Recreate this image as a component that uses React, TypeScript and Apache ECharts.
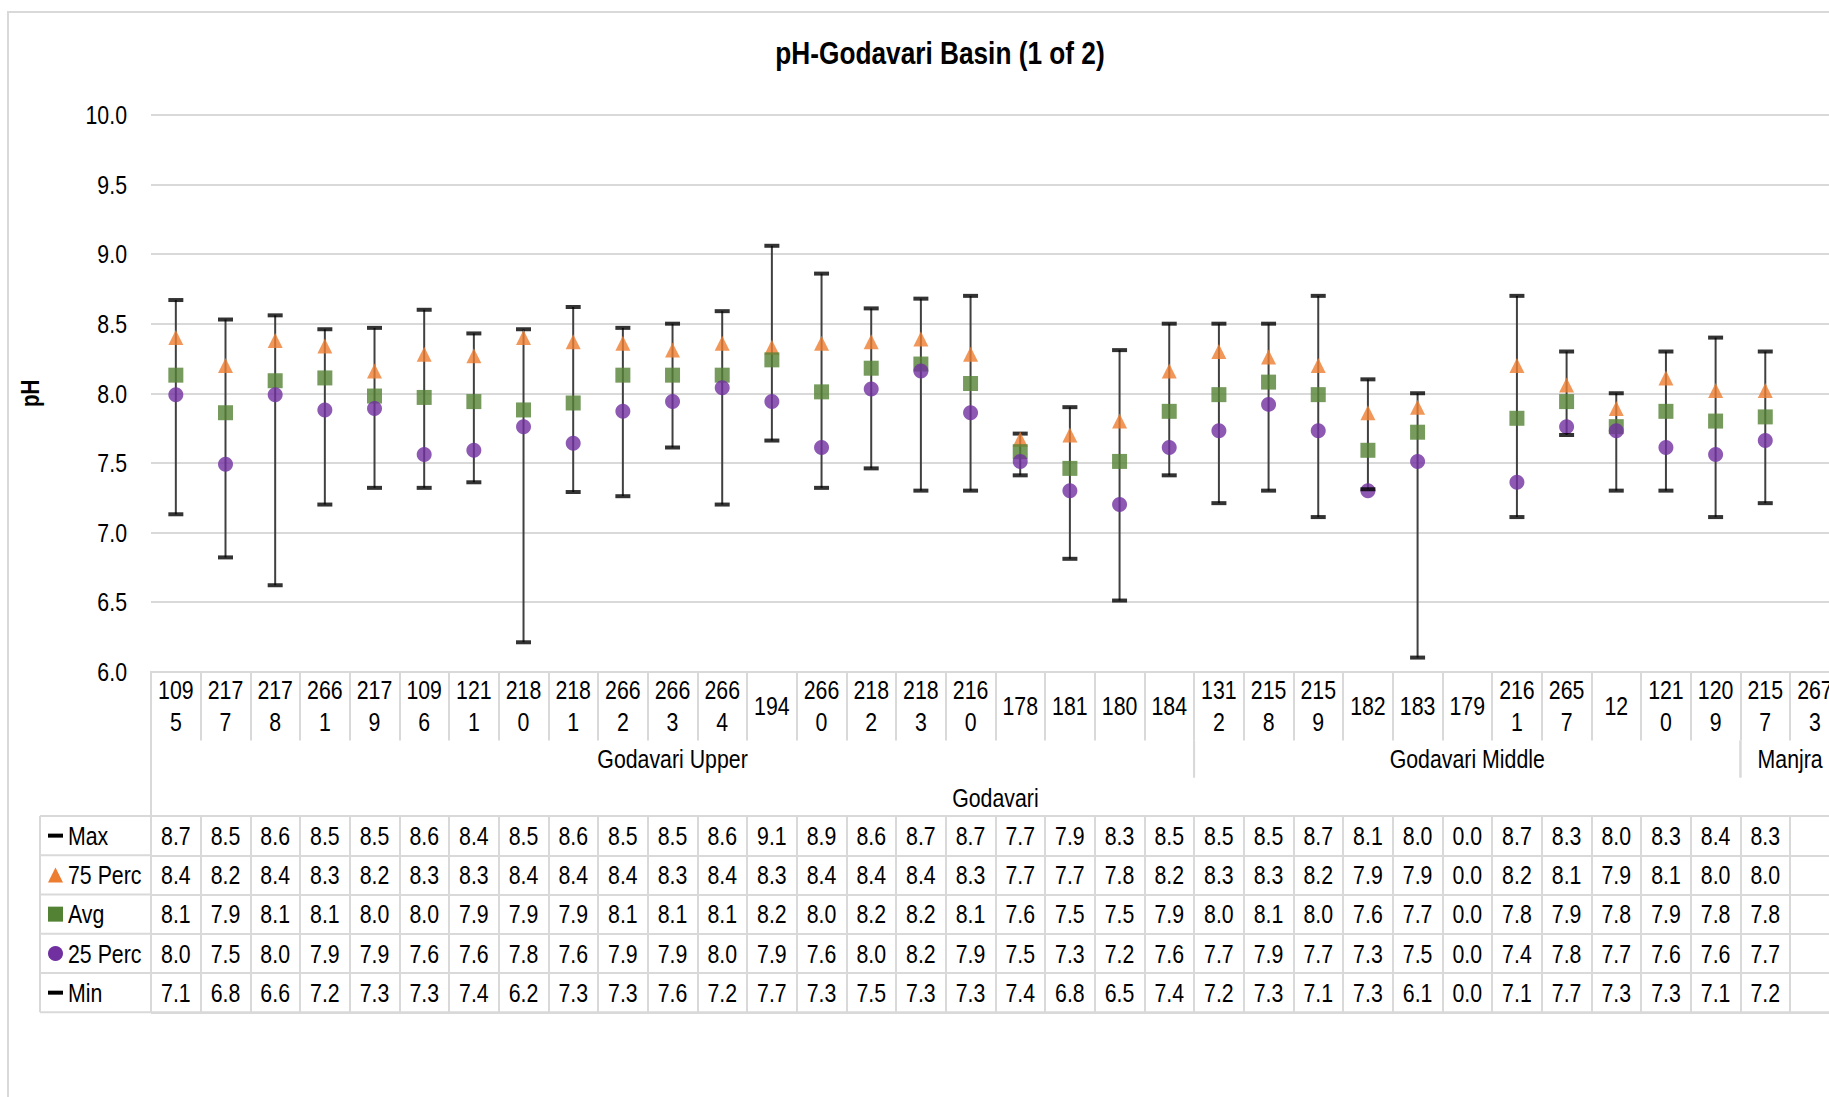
import React, { useEffect, useRef } from 'react';
import * as echarts from 'echarts';

const TITLE = 'pH-Godavari Basin (1 of 2)';
const Y_NAME = 'pH';
const Y_TICKS = [6.0, 6.5, 7.0, 7.5, 8.0, 8.5, 9.0, 9.5, 10.0];
const Y_MIN = 6;
const Y_MAX = 10;
const Y_STEP = 0.5;

const SITES = [
  '1095', '2177', '2178', '2661', '2179', '1096', '1211', '2180', '2181', '2662', '2663',
  '2664', '194', '2660', '2182', '2183', '2160', '178', '181', '180', '184',
  '1312', '2158', '2159', '182', '183', '179', '2161', '2657', '12', '1210', '1209',
  '2157', '2673',
];

const GROUPS = [
  { name: 'Godavari Upper', start: 0, end: 20 },
  { name: 'Godavari Middle', start: 21, end: 31 },
  { name: 'Manjra', start: 32, end: 33 },
];
const BASIN = { name: 'Godavari', start: 0, end: 33 };

const ROW_NAMES = ['Max', '75 Perc', 'Avg', '25 Perc', 'Min'];

const MAX_V = [8.67, 8.53, 8.56, 8.46, 8.47, 8.60, 8.43, 8.46, 8.62, 8.47, 8.50, 8.59, 9.06, 8.86, 8.61, 8.68, 8.70, 7.71, 7.90, 8.31, 8.50, 8.50, 8.50, 8.70, 8.10, 8.00, 0, 8.70, 8.30, 8.00, 8.30, 8.40, 8.30, null];
const P75_V = [8.40, 8.20, 8.38, 8.34, 8.16, 8.28, 8.27, 8.40, 8.37, 8.36, 8.31, 8.36, 8.33, 8.36, 8.37, 8.39, 8.28, 7.67, 7.70, 7.80, 8.16, 8.30, 8.26, 8.20, 7.86, 7.90, 0, 8.20, 8.06, 7.89, 8.11, 8.02, 8.02, null];
const AVG_V = [8.13, 7.86, 8.09, 8.11, 7.98, 7.97, 7.94, 7.88, 7.93, 8.13, 8.13, 8.13, 8.24, 8.01, 8.18, 8.21, 8.07, 7.58, 7.46, 7.51, 7.87, 7.99, 8.08, 7.99, 7.59, 7.72, 0, 7.82, 7.94, 7.76, 7.87, 7.80, 7.83, null];
const P25_V = [7.99, 7.49, 7.99, 7.88, 7.89, 7.56, 7.59, 7.76, 7.64, 7.87, 7.94, 8.04, 7.94, 7.61, 8.03, 8.16, 7.86, 7.51, 7.30, 7.20, 7.61, 7.73, 7.92, 7.73, 7.30, 7.51, 0, 7.36, 7.76, 7.73, 7.61, 7.56, 7.66, null];
const MIN_V = [7.13, 6.82, 6.62, 7.20, 7.32, 7.32, 7.36, 6.21, 7.29, 7.26, 7.61, 7.20, 7.66, 7.32, 7.46, 7.30, 7.30, 7.41, 6.81, 6.51, 7.41, 7.21, 7.30, 7.11, 7.31, 6.10, 0, 7.11, 7.70, 7.30, 7.30, 7.11, 7.21, null];

const ROW_VALUES = [MAX_V, P75_V, AVG_V, P25_V, MIN_V];

const FONT = "'Liberation Sans', Arial, sans-serif";
const FS = 26;
const NARROW = 0.82;
const GRID_LINE = '#D9D9D9';
const C_ORANGE = '#ED7D31';
const C_GREEN = '#548235';
const C_PURPLE = '#7030A0';
const C_BLACK = '#000000';

const CHART_W = 1880;
const CHART_H = 1097;
const PLOT_LEFT = 151;
const PLOT_TOP = 115;
const COL_W = 49.67;
const PLOT_H = 556.5;
const TABLE_TOP = 816;
const ROW_H = 39.26;

const inRange = (v: number | null) => v !== null && v !== undefined && v >= Y_MIN && v <= Y_MAX;

function scatterData(arr: (number | null)[]) {
  const out: number[][] = [];
  arr.forEach((v, i) => {
    if (inRange(v)) out.push([i, v as number]);
  });
  return out;
}

function buildOption() {
  const plotW = COL_W * SITES.length;
  const hiLo: number[][] = [];
  SITES.forEach((_, i) => {
    const hi = MAX_V[i];
    const lo = MIN_V[i];
    if (inRange(hi) && inRange(lo)) hiLo.push([i, hi as number, lo as number]);
  });
  const tableData: number[][] = [];
  ROW_VALUES.forEach((arr, r) => {
    arr.forEach((v, i) => {
      if (v !== null && v !== undefined) tableData.push([i, r, v]);
    });
  });

  return {
    animation: false,
    backgroundColor: '#ffffff',
    grid: [
      { left: PLOT_LEFT, top: PLOT_TOP, width: plotW, height: PLOT_H },
      { left: PLOT_LEFT, top: TABLE_TOP, width: plotW, height: ROW_H * ROW_NAMES.length },
    ],
    xAxis: [
      {
        type: 'category',
        gridIndex: 0,
        data: SITES,
        boundaryGap: true,
        axisLine: { show: true, lineStyle: { color: GRID_LINE, width: 2 } },
        axisTick: { show: true, interval: 0, length: 69, lineStyle: { color: GRID_LINE, width: 2 } },
        axisLabel: { show: false },
        splitLine: { show: false },
      },
      {
        type: 'category',
        gridIndex: 1,
        data: SITES,
        boundaryGap: true,
        axisLine: { show: false },
        axisTick: { show: false },
        axisLabel: { show: false },
        splitLine: { show: true, interval: 0, lineStyle: { color: GRID_LINE, width: 2 } },
      },
    ],
    yAxis: [
      {
        type: 'value',
        gridIndex: 0,
        min: Y_MIN,
        max: Y_MAX,
        interval: Y_STEP,
        axisLine: { show: false },
        axisTick: { show: false },
        splitLine: { show: true, lineStyle: { color: GRID_LINE, width: 2 } },
        axisLabel: { show: false },
      },
      {
        type: 'category',
        gridIndex: 1,
        data: ROW_NAMES,
        inverse: true,
        axisLine: { show: false },
        axisTick: { show: false },
        axisLabel: { show: false },
        splitLine: { show: true, interval: 0, lineStyle: { color: GRID_LINE, width: 2 } },
      },
    ],
    series: [
      {
        type: 'custom',
        name: 'HighLow',
        xAxisIndex: 0,
        yAxisIndex: 0,
        data: hiLo,
        encode: { x: 0, y: [1, 2] },
        z: 1,
        renderItem: (params: any, api: any) => {
          const a = api.coord([api.value(0), api.value(1)]);
          const b = api.coord([api.value(0), api.value(2)]);
          return {
            type: 'line',
            shape: { x1: a[0], y1: a[1], x2: b[0], y2: b[1] },
            style: { stroke: '#404040', lineWidth: 2 },
          };
        },
      },
      {
        type: 'scatter', name: 'Max', xAxisIndex: 0, yAxisIndex: 0, z: 3,
        data: scatterData(MAX_V), symbol: 'rect', symbolSize: [15, 4],
        itemStyle: { color: C_BLACK },
      },
      {
        type: 'scatter', name: '75 Perc', xAxisIndex: 0, yAxisIndex: 0, z: 3,
        data: scatterData(P75_V), symbol: 'triangle', symbolSize: 15,
        itemStyle: { color: C_ORANGE },
      },
      {
        type: 'scatter', name: 'Avg', xAxisIndex: 0, yAxisIndex: 0, z: 3,
        data: scatterData(AVG_V), symbol: 'rect', symbolSize: 15,
        itemStyle: { color: C_GREEN },
      },
      {
        type: 'scatter', name: '25 Perc', xAxisIndex: 0, yAxisIndex: 0, z: 3,
        data: scatterData(P25_V), symbol: 'circle', symbolSize: 15,
        itemStyle: { color: C_PURPLE },
      },
      {
        type: 'scatter', name: 'Min', xAxisIndex: 0, yAxisIndex: 0, z: 4,
        data: scatterData(MIN_V), symbol: 'rect', symbolSize: [15, 4],
        itemStyle: { color: C_BLACK },
      },
      {
        type: 'custom',
        name: 'Table',
        xAxisIndex: 1,
        yAxisIndex: 1,
        data: tableData,
        encode: { x: 0, y: 1 },
        renderItem: (params: any, api: any) => {
          const p = api.coord([api.value(0), api.value(1)]);
          const v = Number(api.value(2));
          return {
            type: 'text',
            x: p[0],
            y: p[1],
            scaleX: NARROW,
            style: {
              text: v.toFixed(1),
              fontSize: FS,
              fontFamily: FONT,
              fill: C_BLACK,
              align: 'center',
              verticalAlign: 'middle',
            },
          };
        },
      },
    ],
  };
}

function buildGraphics(chart: any) {
  const n = SITES.length;
  const px = (i: number) => chart.convertToPixel({ xAxisIndex: 0 }, i) as number;
  const colW = px(1) - px(0);
  const bound = (i: number) => px(0) + (i - 0.5) * colW;
  const py = (v: number) => chart.convertToPixel({ yAxisIndex: 0 }, v) as number;
  const yTop = py(Y_MAX);
  const yBot = py(Y_MIN);
  const rowY = (r: number) => chart.convertToPixel({ yAxisIndex: 1 }, r) as number;
  const rowH = rowY(1) - rowY(0);
  const tTop = rowY(0) - rowH / 2;
  const tBot = rowY(ROW_NAMES.length - 1) + rowH / 2;
  const tableLeft = 40;

  const line = (x1: number, y1: number, x2: number, y2: number, color = GRID_LINE) => ({
    type: 'line',
    shape: { x1, y1, x2, y2 },
    style: { stroke: color, lineWidth: 2 },
    silent: true,
  });
  const text = (t: string, x: number, y: number, extra: any = {}) => ({
    type: 'text',
    x,
    y,
    scaleX: NARROW,
    style: {
      text: t,
      fontSize: FS,
      fontFamily: FONT,
      fill: C_BLACK,
      align: 'center',
      verticalAlign: 'middle',
      ...extra,
    },
    silent: true,
  });

  const els: any[] = [];
  // outer chart border
  els.push({
    type: 'rect',
    shape: { x: 8, y: 12, width: CHART_W - 14, height: CHART_H + 100 },
    style: { fill: 'none', stroke: GRID_LINE, lineWidth: 2 },
    silent: true,
  });
  // title
  els.push(text(TITLE, CHART_W / 2, 53, { fontSize: 32, fontWeight: 'bold' }));
  // y axis name
  els.push({
    ...text(Y_NAME, 30, (yTop + yBot) / 2, { fontSize: 25, fontWeight: 'bold' }),
    rotation: Math.PI / 2,
  });

  // y tick labels
  Y_TICKS.forEach((v) => {
    els.push(text(v.toFixed(1), PLOT_LEFT - 24, py(v), { align: 'right' }));
  });

  // category labels (two lines when long)
  SITES.forEach((s, i) => {
    const label = s.length > 3 ? s.slice(0, 3) + '\n' + s.slice(3) : s;
    els.push(text(label, px(i), yBot + 34, { lineHeight: 32 }));
  });

  // outer verticals of multi-level category area
  els.push(line(bound(0), yBot, bound(0), tTop));
  els.push(line(bound(n), yBot, bound(n), tTop));

  // group level
  GROUPS.forEach((g) => {
    const x1 = bound(g.start);
    const x2 = bound(g.end + 1);
    els.push(line(x1, yBot + 69, x1, yBot + 106));
    els.push(line(x2, yBot + 69, x2, yBot + 106));
    els.push(text(g.name, (x1 + x2) / 2, yBot + 87));
  });
  // basin level
  {
    const x1 = bound(BASIN.start);
    const x2 = bound(BASIN.end + 1);
    els.push(text(BASIN.name, (x1 + x2) / 2, yBot + 126));
  }

  // table frame
  els.push(line(tableLeft, tTop, tableLeft, tBot));
  for (let k = 0; k <= ROW_NAMES.length; k++) {
    const y = tTop + k * rowH;
    els.push(line(tableLeft, y, bound(0), y));
  }
  els.push(line(bound(0), tTop, bound(n), tTop));
  els.push(line(bound(0), tBot, bound(n), tBot));

  // legend keys
  const kx = 48;
  const ks = 15;
  ROW_NAMES.forEach((name, r) => {
    const cy = rowY(r);
    if (name === 'Max' || name === 'Min') {
      els.push({ type: 'rect', shape: { x: kx, y: cy - 2, width: ks, height: 4 }, style: { fill: C_BLACK }, silent: true });
    } else if (name === '75 Perc') {
      els.push({
        type: 'polygon',
        shape: { points: [[kx + ks / 2, cy - ks / 2], [kx + ks, cy + ks / 2], [kx, cy + ks / 2]] },
        style: { fill: C_ORANGE },
        silent: true,
      });
    } else if (name === 'Avg') {
      els.push({ type: 'rect', shape: { x: kx, y: cy - ks / 2, width: ks, height: ks }, style: { fill: C_GREEN }, silent: true });
    } else {
      els.push({ type: 'circle', shape: { cx: kx + ks / 2, cy, r: ks / 2 }, style: { fill: C_PURPLE }, silent: true });
    }
    els.push(text(name, kx + 20, cy, { align: 'left' }));
  });

  return els;
}

export default function App() {
  const ref = useRef<HTMLDivElement>(null);
  useEffect(() => {
    if (!ref.current) return;
    const chart = echarts.init(ref.current, undefined, { renderer: 'svg' });
    chart.setOption(buildOption() as any);
    chart.setOption({ graphic: buildGraphics(chart) } as any);
    return () => chart.dispose();
  }, []);
  return (
    <div
      style={{
        position: 'fixed',
        left: 0,
        top: 0,
        width: '100vw',
        height: '100vh',
        overflow: 'hidden',
        background: '#ffffff',
      }}
    >
      <div ref={ref} style={{ width: CHART_W, height: CHART_H }} />
    </div>
  );
}
